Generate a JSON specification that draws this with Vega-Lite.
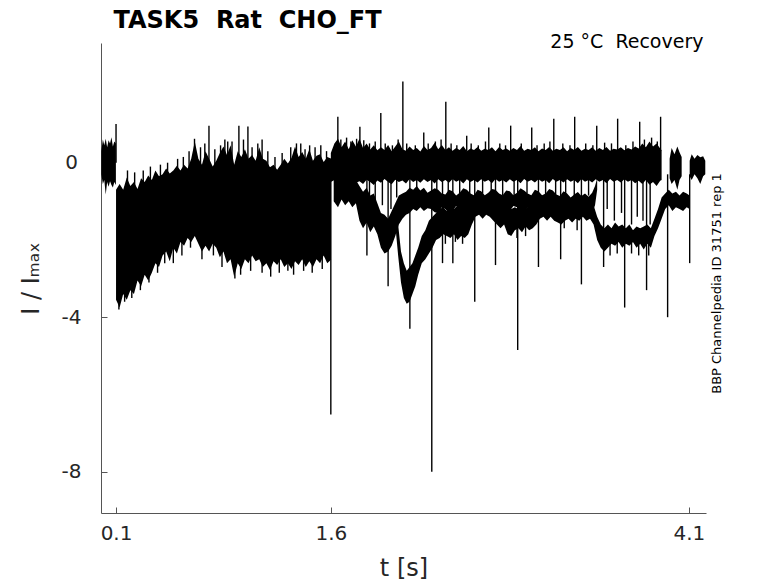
{
  "$schema": "https://vega.github.io/schema/vega-lite/v6.json",
  "width": 605,
  "height": 470,
  "autosize": "none",
  "padding": {"left": 101, "top": 43, "right": 72, "bottom": 70},
  "background": "white",
  "config": {
    "view": {"stroke": null},
    "font": "DejaVu Sans",
    "axis": {"grid": false, "zindex": 1}
  },
  "datasets": {
    "bands": [
      {"s": "a", "t": -0.003, "hi": 0.3, "lo": -0.3},
      {"s": "a", "t": 0.008, "hi": 0.6, "lo": -0.55},
      {"s": "a", "t": 0.018, "hi": 0.45, "lo": -0.45},
      {"s": "a", "t": 0.028, "hi": 0.62, "lo": -0.82},
      {"s": "a", "t": 0.038, "hi": 0.4, "lo": -0.5},
      {"s": "a", "t": 0.048, "hi": 0.58, "lo": -0.62},
      {"s": "a", "t": 0.058, "hi": 0.5, "lo": -0.48},
      {"s": "a", "t": 0.068, "hi": 0.66, "lo": -0.58},
      {"s": "a", "t": 0.078, "hi": 0.42, "lo": -0.64},
      {"s": "a", "t": 0.088, "hi": 0.55, "lo": -0.5},
      {"s": "a", "t": 0.099, "hi": 0.5, "lo": -0.58},

      {"s": "b", "t": 0.1, "hi": -0.7, "lo": -3.55},
      {"s": "b", "t": 0.125, "hi": -0.55, "lo": -3.75},
      {"s": "b", "t": 0.15, "hi": -0.7, "lo": -3.4},
      {"s": "b", "t": 0.175, "hi": -0.38, "lo": -3.55},
      {"s": "b", "t": 0.2, "hi": -0.6, "lo": -3.3},
      {"s": "b", "t": 0.225, "hi": -0.5, "lo": -3.4},
      {"s": "b", "t": 0.25, "hi": -0.68, "lo": -3.05},
      {"s": "b", "t": 0.275, "hi": -0.4, "lo": -3.2},
      {"s": "b", "t": 0.3, "hi": -0.5, "lo": -2.9},
      {"s": "b", "t": 0.325, "hi": -0.33, "lo": -3.05},
      {"s": "b", "t": 0.35, "hi": -0.45, "lo": -2.85},
      {"s": "b", "t": 0.375, "hi": -0.2, "lo": -2.6},
      {"s": "b", "t": 0.4, "hi": -0.35, "lo": -2.7},
      {"s": "b", "t": 0.425, "hi": -0.3, "lo": -2.4},
      {"s": "b", "t": 0.45, "hi": -0.15, "lo": -2.3},
      {"s": "b", "t": 0.475, "hi": -0.28, "lo": -2.55},
      {"s": "b", "t": 0.5, "hi": -0.2, "lo": -2.2},
      {"s": "b", "t": 0.525, "hi": -0.08, "lo": -2.35},
      {"s": "b", "t": 0.55, "hi": -0.2, "lo": -2.05},
      {"s": "b", "t": 0.575, "hi": -0.05, "lo": -2.15},
      {"s": "b", "t": 0.6, "hi": -0.15, "lo": -1.95},
      {"s": "b", "t": 0.625, "hi": 0.1, "lo": -2.05},
      {"s": "b", "t": 0.65, "hi": 0.55, "lo": -1.9},
      {"s": "b", "t": 0.675, "hi": 0.1, "lo": -2.1},
      {"s": "b", "t": 0.7, "hi": -0.05, "lo": -2.3},
      {"s": "b", "t": 0.725, "hi": 0.3, "lo": -2.15},
      {"s": "b", "t": 0.75, "hi": 0.1, "lo": -2.3},
      {"s": "b", "t": 0.775, "hi": -0.1, "lo": -2.1},
      {"s": "b", "t": 0.8, "hi": 0.05, "lo": -2.2},
      {"s": "b", "t": 0.825, "hi": 0.25, "lo": -2.45},
      {"s": "b", "t": 0.85, "hi": 0.42, "lo": -2.3},
      {"s": "b", "t": 0.875, "hi": 0.2, "lo": -2.6},
      {"s": "b", "t": 0.9, "hi": 0.45, "lo": -2.5},
      {"s": "b", "t": 0.925, "hi": -0.05, "lo": -2.95},
      {"s": "b", "t": 0.95, "hi": 0.3, "lo": -2.6},
      {"s": "b", "t": 0.975, "hi": 0.15, "lo": -2.75},
      {"s": "b", "t": 1.0, "hi": 0.35, "lo": -2.5},
      {"s": "b", "t": 1.025, "hi": 0.1, "lo": -2.6},
      {"s": "b", "t": 1.05, "hi": 0.2, "lo": -2.4},
      {"s": "b", "t": 1.075, "hi": 0.05, "lo": -2.55},
      {"s": "b", "t": 1.1, "hi": 0.4, "lo": -2.5},
      {"s": "b", "t": 1.125, "hi": 0.1, "lo": -2.7},
      {"s": "b", "t": 1.15, "hi": 0.05, "lo": -2.6},
      {"s": "b", "t": 1.175, "hi": -0.12, "lo": -2.78},
      {"s": "b", "t": 1.2, "hi": -0.05, "lo": -2.55},
      {"s": "b", "t": 1.225, "hi": -0.18, "lo": -2.65},
      {"s": "b", "t": 1.25, "hi": -0.05, "lo": -2.5},
      {"s": "b", "t": 1.275, "hi": 0.1, "lo": -2.7},
      {"s": "b", "t": 1.3, "hi": -0.02, "lo": -2.6},
      {"s": "b", "t": 1.325, "hi": 0.12, "lo": -2.75},
      {"s": "b", "t": 1.35, "hi": 0.42, "lo": -2.55},
      {"s": "b", "t": 1.375, "hi": 0.15, "lo": -2.65},
      {"s": "b", "t": 1.4, "hi": 0.28, "lo": -2.5},
      {"s": "b", "t": 1.425, "hi": 0.1, "lo": -2.7},
      {"s": "b", "t": 1.45, "hi": 0.35, "lo": -2.55},
      {"s": "b", "t": 1.475, "hi": 0.05, "lo": -2.7},
      {"s": "b", "t": 1.5, "hi": 0.18, "lo": -2.5},
      {"s": "b", "t": 1.525, "hi": 0.22, "lo": -2.6},
      {"s": "b", "t": 1.55, "hi": 0.02, "lo": -2.4},
      {"s": "b", "t": 1.575, "hi": 0.15, "lo": -2.6},
      {"s": "b", "t": 1.605, "hi": 0.1, "lo": -2.5},

      {"s": "c1", "t": 1.6, "hi": 0.25, "lo": -0.5},
      {"s": "c1", "t": 1.625, "hi": 0.5, "lo": -0.45},
      {"s": "c1", "t": 1.65, "hi": 0.62, "lo": -0.55},
      {"s": "c1", "t": 1.675, "hi": 0.4, "lo": -0.45},
      {"s": "c1", "t": 1.7, "hi": 0.55, "lo": -0.5},
      {"s": "c1", "t": 1.725, "hi": 0.35, "lo": -0.6},
      {"s": "c1", "t": 1.75, "hi": 0.58, "lo": -0.45},
      {"s": "c1", "t": 1.775, "hi": 0.42, "lo": -0.52},
      {"s": "c1", "t": 1.8, "hi": 0.62, "lo": -0.48},
      {"s": "c1", "t": 1.825, "hi": 0.38, "lo": -0.55},
      {"s": "c1", "t": 1.85, "hi": 0.5, "lo": -0.44},
      {"s": "c1", "t": 1.875, "hi": 0.34, "lo": -0.5},
      {"s": "c1", "t": 1.9, "hi": 0.45, "lo": -0.58},
      {"s": "c1", "t": 1.925, "hi": 0.32, "lo": -0.46},
      {"s": "c1", "t": 1.95, "hi": 0.4, "lo": -0.52},
      {"s": "c1", "t": 1.975, "hi": 0.33, "lo": -0.42},
      {"s": "c1", "t": 2.0, "hi": 0.46, "lo": -0.5},
      {"s": "c1", "t": 2.025, "hi": 0.3, "lo": -0.56},
      {"s": "c1", "t": 2.05, "hi": 0.42, "lo": -0.44},
      {"s": "c1", "t": 2.075, "hi": 0.55, "lo": -0.5},
      {"s": "c1", "t": 2.1, "hi": 0.35, "lo": -0.46},
      {"s": "c1", "t": 2.125, "hi": 0.31, "lo": -0.54},
      {"s": "c1", "t": 2.15, "hi": 0.42, "lo": -0.42},
      {"s": "c1", "t": 2.175, "hi": 0.33, "lo": -0.5},
      {"s": "c1", "t": 2.2, "hi": 0.38, "lo": -0.45},
      {"s": "c1", "t": 2.225, "hi": 0.29, "lo": -0.52},
      {"s": "c1", "t": 2.25, "hi": 0.43, "lo": -0.43},
      {"s": "c1", "t": 2.275, "hi": 0.33, "lo": -0.5},
      {"s": "c1", "t": 2.3, "hi": 0.38, "lo": -0.45},
      {"s": "c1", "t": 2.325, "hi": 0.52, "lo": -0.54},
      {"s": "c1", "t": 2.35, "hi": 0.35, "lo": -0.43},
      {"s": "c1", "t": 2.375, "hi": 0.46, "lo": -0.5},
      {"s": "c1", "t": 2.4, "hi": 0.33, "lo": -0.45},
      {"s": "c1", "t": 2.425, "hi": 0.4, "lo": -0.52},
      {"s": "c1", "t": 2.45, "hi": 0.31, "lo": -0.42},
      {"s": "c1", "t": 2.475, "hi": 0.38, "lo": -0.49},
      {"s": "c1", "t": 2.5, "hi": 0.33, "lo": -0.45},
      {"s": "c1", "t": 2.525, "hi": 0.43, "lo": -0.54},
      {"s": "c1", "t": 2.55, "hi": 0.3, "lo": -0.43},
      {"s": "c1", "t": 2.575, "hi": 0.37, "lo": -0.5},
      {"s": "c1", "t": 2.6, "hi": 0.33, "lo": -0.45},
      {"s": "c1", "t": 2.625, "hi": 0.41, "lo": -0.51},
      {"s": "c1", "t": 2.65, "hi": 0.31, "lo": -0.43},
      {"s": "c1", "t": 2.675, "hi": 0.36, "lo": -0.49},
      {"s": "c1", "t": 2.7, "hi": 0.33, "lo": -0.45},
      {"s": "c1", "t": 2.725, "hi": 0.4, "lo": -0.53},
      {"s": "c1", "t": 2.75, "hi": 0.3, "lo": -0.42},
      {"s": "c1", "t": 2.775, "hi": 0.41, "lo": -0.49},
      {"s": "c1", "t": 2.8, "hi": 0.33, "lo": -0.45},
      {"s": "c1", "t": 2.825, "hi": 0.37, "lo": -0.51},
      {"s": "c1", "t": 2.85, "hi": 0.31, "lo": -0.43},
      {"s": "c1", "t": 2.875, "hi": 0.38, "lo": -0.49},
      {"s": "c1", "t": 2.9, "hi": 0.33, "lo": -0.45},
      {"s": "c1", "t": 2.925, "hi": 0.43, "lo": -0.53},
      {"s": "c1", "t": 2.95, "hi": 0.31, "lo": -0.42},
      {"s": "c1", "t": 2.975, "hi": 0.36, "lo": -0.49},
      {"s": "c1", "t": 3.0, "hi": 0.33, "lo": -0.45},
      {"s": "c1", "t": 3.025, "hi": 0.4, "lo": -0.51},
      {"s": "c1", "t": 3.05, "hi": 0.3, "lo": -0.43},
      {"s": "c1", "t": 3.075, "hi": 0.37, "lo": -0.49},
      {"s": "c1", "t": 3.1, "hi": 0.33, "lo": -0.45},
      {"s": "c1", "t": 3.125, "hi": 0.41, "lo": -0.53},
      {"s": "c1", "t": 3.15, "hi": 0.31, "lo": -0.42},
      {"s": "c1", "t": 3.175, "hi": 0.36, "lo": -0.49},
      {"s": "c1", "t": 3.2, "hi": 0.33, "lo": -0.45},
      {"s": "c1", "t": 3.225, "hi": 0.4, "lo": -0.51},
      {"s": "c1", "t": 3.25, "hi": 0.3, "lo": -0.43},
      {"s": "c1", "t": 3.275, "hi": 0.38, "lo": -0.49},
      {"s": "c1", "t": 3.3, "hi": 0.33, "lo": -0.45},
      {"s": "c1", "t": 3.325, "hi": 0.41, "lo": -0.53},
      {"s": "c1", "t": 3.35, "hi": 0.31, "lo": -0.42},
      {"s": "c1", "t": 3.375, "hi": 0.36, "lo": -0.49},
      {"s": "c1", "t": 3.4, "hi": 0.33, "lo": -0.45},
      {"s": "c1", "t": 3.425, "hi": 0.4, "lo": -0.51},
      {"s": "c1", "t": 3.45, "hi": 0.31, "lo": -0.43},
      {"s": "c1", "t": 3.475, "hi": 0.38, "lo": -0.49},
      {"s": "c1", "t": 3.5, "hi": 0.33, "lo": -0.45},
      {"s": "c1", "t": 3.525, "hi": 0.41, "lo": -0.53},
      {"s": "c1", "t": 3.55, "hi": 0.31, "lo": -0.42},
      {"s": "c1", "t": 3.575, "hi": 0.36, "lo": -0.49},
      {"s": "c1", "t": 3.6, "hi": 0.34, "lo": -0.45},
      {"s": "c1", "t": 3.625, "hi": 0.4, "lo": -0.51},
      {"s": "c1", "t": 3.65, "hi": 0.32, "lo": -0.43},
      {"s": "c1", "t": 3.675, "hi": 0.38, "lo": -0.49},
      {"s": "c1", "t": 3.7, "hi": 0.34, "lo": -0.45},
      {"s": "c1", "t": 3.725, "hi": 0.42, "lo": -0.53},
      {"s": "c1", "t": 3.75, "hi": 0.37, "lo": -0.47},
      {"s": "c1", "t": 3.775, "hi": 0.5, "lo": -0.55},
      {"s": "c1", "t": 3.8, "hi": 0.4, "lo": -0.45},
      {"s": "c1", "t": 3.825, "hi": 0.55, "lo": -0.57},
      {"s": "c1", "t": 3.85, "hi": 0.42, "lo": -0.5},
      {"s": "c1", "t": 3.875, "hi": 0.5, "lo": -0.6},
      {"s": "c1", "t": 3.9, "hi": 0.37, "lo": -0.47},
      {"s": "c1", "t": 3.91, "hi": 0.32, "lo": -0.45},

      {"s": "c2", "t": 3.966, "hi": 0.1, "lo": -0.4},
      {"s": "c2", "t": 3.98, "hi": 0.38, "lo": -0.55},
      {"s": "c2", "t": 4.0, "hi": 0.22, "lo": -0.45},
      {"s": "c2", "t": 4.02, "hi": 0.42, "lo": -0.7},
      {"s": "c2", "t": 4.035, "hi": 0.27, "lo": -0.45},
      {"s": "c2", "t": 4.05, "hi": 0.15, "lo": -0.35},

      {"s": "c3", "t": 4.106, "hi": 0.05, "lo": -0.35},
      {"s": "c3", "t": 4.12, "hi": 0.22, "lo": -0.45},
      {"s": "c3", "t": 4.14, "hi": 0.1, "lo": -0.3},
      {"s": "c3", "t": 4.16, "hi": 0.2, "lo": -0.4},
      {"s": "c3", "t": 4.18, "hi": 0.14, "lo": -0.55},
      {"s": "c3", "t": 4.2, "hi": 0.17, "lo": -0.35},
      {"s": "c3", "t": 4.215, "hi": 0.05, "lo": -0.3},

      {"s": "d", "t": 1.62, "hi": -0.3, "lo": -1.0},
      {"s": "d", "t": 1.65, "hi": -0.3, "lo": -1.15},
      {"s": "d", "t": 1.675, "hi": -0.35, "lo": -0.95},
      {"s": "d", "t": 1.7, "hi": -0.3, "lo": -1.1},
      {"s": "d", "t": 1.725, "hi": -0.4, "lo": -1.0},
      {"s": "d", "t": 1.75, "hi": -0.3, "lo": -1.15},
      {"s": "d", "t": 1.775, "hi": -0.45, "lo": -1.05},
      {"s": "d", "t": 1.8, "hi": -0.6, "lo": -1.5},
      {"s": "d", "t": 1.825, "hi": -0.75, "lo": -1.7},
      {"s": "d", "t": 1.85, "hi": -0.65, "lo": -1.55},
      {"s": "d", "t": 1.875, "hi": -0.85, "lo": -1.8},
      {"s": "d", "t": 1.9, "hi": -0.8, "lo": -1.65},
      {"s": "d", "t": 1.925, "hi": -1.05, "lo": -1.85},
      {"s": "d", "t": 1.95, "hi": -1.3, "lo": -2.2},
      {"s": "d", "t": 1.975, "hi": -1.35, "lo": -2.35},
      {"s": "d", "t": 2.0, "hi": -1.45, "lo": -2.3},
      {"s": "d", "t": 2.025, "hi": -1.25, "lo": -2.15},
      {"s": "d", "t": 2.05, "hi": -1.05, "lo": -1.9},
      {"s": "d", "t": 2.075, "hi": -0.85, "lo": -1.6},
      {"s": "d", "t": 2.1, "hi": -0.8, "lo": -1.45},
      {"s": "d", "t": 2.125, "hi": -0.75, "lo": -1.35},
      {"s": "d", "t": 2.15, "hi": -0.65, "lo": -1.3},
      {"s": "d", "t": 2.175, "hi": -0.7, "lo": -1.2},
      {"s": "d", "t": 2.2, "hi": -0.6, "lo": -1.25},
      {"s": "d", "t": 2.225, "hi": -0.72, "lo": -1.15},
      {"s": "d", "t": 2.25, "hi": -0.65, "lo": -1.25},
      {"s": "d", "t": 2.275, "hi": -0.78, "lo": -1.18},
      {"s": "d", "t": 2.3, "hi": -0.72, "lo": -1.2},
      {"s": "d", "t": 2.325, "hi": -0.66, "lo": -1.28},
      {"s": "d", "t": 2.35, "hi": -0.7, "lo": -1.3},
      {"s": "d", "t": 2.375, "hi": -0.8, "lo": -1.15},
      {"s": "d", "t": 2.4, "hi": -0.82, "lo": -1.2},
      {"s": "d", "t": 2.425, "hi": -0.7, "lo": -1.32},
      {"s": "d", "t": 2.45, "hi": -0.74, "lo": -1.25},
      {"s": "d", "t": 2.475, "hi": -0.85, "lo": -1.12},
      {"s": "d", "t": 2.5, "hi": -0.78, "lo": -1.15},
      {"s": "d", "t": 2.525, "hi": -0.66, "lo": -1.3},
      {"s": "d", "t": 2.55, "hi": -0.7, "lo": -1.3},
      {"s": "d", "t": 2.575, "hi": -0.8, "lo": -1.18},
      {"s": "d", "t": 2.6, "hi": -0.84, "lo": -1.2},
      {"s": "d", "t": 2.625, "hi": -0.7, "lo": -1.3},
      {"s": "d", "t": 2.65, "hi": -0.74, "lo": -1.25},
      {"s": "d", "t": 2.675, "hi": -0.84, "lo": -1.12},
      {"s": "d", "t": 2.7, "hi": -0.78, "lo": -1.15},
      {"s": "d", "t": 2.725, "hi": -0.68, "lo": -1.28},
      {"s": "d", "t": 2.75, "hi": -0.7, "lo": -1.3},
      {"s": "d", "t": 2.775, "hi": -0.8, "lo": -1.16},
      {"s": "d", "t": 2.8, "hi": -0.84, "lo": -1.2},
      {"s": "d", "t": 2.825, "hi": -0.72, "lo": -1.3},
      {"s": "d", "t": 2.85, "hi": -0.74, "lo": -1.25},
      {"s": "d", "t": 2.875, "hi": -0.84, "lo": -1.12},
      {"s": "d", "t": 2.9, "hi": -0.78, "lo": -1.15},
      {"s": "d", "t": 2.925, "hi": -0.66, "lo": -1.3},
      {"s": "d", "t": 2.95, "hi": -0.72, "lo": -1.28},
      {"s": "d", "t": 2.975, "hi": -0.8, "lo": -1.16},
      {"s": "d", "t": 3.0, "hi": -0.84, "lo": -1.2},
      {"s": "d", "t": 3.025, "hi": -0.7, "lo": -1.3},
      {"s": "d", "t": 3.05, "hi": -0.74, "lo": -1.25},
      {"s": "d", "t": 3.075, "hi": -0.84, "lo": -1.12},
      {"s": "d", "t": 3.1, "hi": -0.8, "lo": -1.15},
      {"s": "d", "t": 3.125, "hi": -0.68, "lo": -1.3},
      {"s": "d", "t": 3.15, "hi": -0.72, "lo": -1.3},
      {"s": "d", "t": 3.175, "hi": -0.82, "lo": -1.16},
      {"s": "d", "t": 3.2, "hi": -0.86, "lo": -1.22},
      {"s": "d", "t": 3.225, "hi": -0.74, "lo": -1.32},
      {"s": "d", "t": 3.25, "hi": -0.8, "lo": -1.25},
      {"s": "d", "t": 3.275, "hi": -0.9, "lo": -1.2},
      {"s": "d", "t": 3.3, "hi": -0.82, "lo": -1.3},
      {"s": "d", "t": 3.325, "hi": -0.76, "lo": -1.25},
      {"s": "d", "t": 3.35, "hi": -0.86, "lo": -1.18},
      {"s": "d", "t": 3.375, "hi": -0.8, "lo": -1.28},
      {"s": "d", "t": 3.4, "hi": -0.88, "lo": -1.22},
      {"s": "d", "t": 3.425, "hi": -0.78, "lo": -1.3},
      {"s": "d", "t": 3.445, "hi": -0.6, "lo": -1.1},
      {"s": "d", "t": 3.46, "hi": -0.4, "lo": -0.7},

      {"s": "e", "t": 2.05, "hi": -1.2, "lo": -1.6},
      {"s": "e", "t": 2.07, "hi": -1.6, "lo": -2.4},
      {"s": "e", "t": 2.09, "hi": -2.3, "lo": -3.1},
      {"s": "e", "t": 2.11, "hi": -2.6, "lo": -3.5},
      {"s": "e", "t": 2.13, "hi": -2.8, "lo": -3.65},
      {"s": "e", "t": 2.15, "hi": -2.7, "lo": -3.6},
      {"s": "e", "t": 2.17, "hi": -2.6, "lo": -3.4},
      {"s": "e", "t": 2.19, "hi": -2.4, "lo": -3.2},
      {"s": "e", "t": 2.21, "hi": -2.2, "lo": -2.9},
      {"s": "e", "t": 2.235, "hi": -1.9, "lo": -2.6},
      {"s": "e", "t": 2.26, "hi": -1.75, "lo": -2.5},
      {"s": "e", "t": 2.285, "hi": -1.5, "lo": -2.35},
      {"s": "e", "t": 2.31, "hi": -1.4, "lo": -2.2},
      {"s": "e", "t": 2.335, "hi": -1.3, "lo": -2.0},
      {"s": "e", "t": 2.36, "hi": -1.2, "lo": -1.95},
      {"s": "e", "t": 2.385, "hi": -1.15, "lo": -1.85},
      {"s": "e", "t": 2.41, "hi": -1.25, "lo": -1.9},
      {"s": "e", "t": 2.435, "hi": -1.1, "lo": -1.95},
      {"s": "e", "t": 2.46, "hi": -1.2, "lo": -1.85},
      {"s": "e", "t": 2.485, "hi": -1.1, "lo": -2.0},
      {"s": "e", "t": 2.51, "hi": -1.15, "lo": -1.9},
      {"s": "e", "t": 2.535, "hi": -1.05, "lo": -1.95},
      {"s": "e", "t": 2.56, "hi": -1.1, "lo": -1.85},
      {"s": "e", "t": 2.585, "hi": -1.0, "lo": -1.6},
      {"s": "e", "t": 2.61, "hi": -1.05, "lo": -1.4},
      {"s": "e", "t": 2.635, "hi": -0.95, "lo": -1.35},
      {"s": "e", "t": 2.66, "hi": -1.0, "lo": -1.45},
      {"s": "e", "t": 2.685, "hi": -0.95, "lo": -1.35},
      {"s": "e", "t": 2.71, "hi": -1.05, "lo": -1.4},
      {"s": "e", "t": 2.735, "hi": -1.0, "lo": -1.5},
      {"s": "e", "t": 2.76, "hi": -1.1, "lo": -1.6},
      {"s": "e", "t": 2.785, "hi": -1.05, "lo": -1.7},
      {"s": "e", "t": 2.81, "hi": -1.15, "lo": -1.6},
      {"s": "e", "t": 2.835, "hi": -1.1, "lo": -1.85},
      {"s": "e", "t": 2.86, "hi": -1.2, "lo": -1.9},
      {"s": "e", "t": 2.885, "hi": -1.15, "lo": -1.75},
      {"s": "e", "t": 2.91, "hi": -1.2, "lo": -1.7},
      {"s": "e", "t": 2.935, "hi": -1.15, "lo": -1.8},
      {"s": "e", "t": 2.96, "hi": -1.2, "lo": -1.65},
      {"s": "e", "t": 2.985, "hi": -1.1, "lo": -1.75},
      {"s": "e", "t": 3.01, "hi": -1.2, "lo": -1.7},
      {"s": "e", "t": 3.035, "hi": -1.1, "lo": -1.6},
      {"s": "e", "t": 3.06, "hi": -1.05, "lo": -1.45},
      {"s": "e", "t": 3.085, "hi": -1.0, "lo": -1.4},
      {"s": "e", "t": 3.11, "hi": -1.1, "lo": -1.5},
      {"s": "e", "t": 3.135, "hi": -1.0, "lo": -1.4},
      {"s": "e", "t": 3.16, "hi": -1.1, "lo": -1.5},
      {"s": "e", "t": 3.185, "hi": -1.05, "lo": -1.55},
      {"s": "e", "t": 3.21, "hi": -1.1, "lo": -1.6},
      {"s": "e", "t": 3.235, "hi": -1.0, "lo": -1.5},
      {"s": "e", "t": 3.26, "hi": -1.1, "lo": -1.45},
      {"s": "e", "t": 3.285, "hi": -1.05, "lo": -1.55},
      {"s": "e", "t": 3.31, "hi": -1.0, "lo": -1.45},
      {"s": "e", "t": 3.335, "hi": -1.1, "lo": -1.5},
      {"s": "e", "t": 3.36, "hi": -1.0, "lo": -1.4},
      {"s": "e", "t": 3.385, "hi": -1.05, "lo": -1.5},
      {"s": "e", "t": 3.41, "hi": -1.0, "lo": -1.45},
      {"s": "e", "t": 3.435, "hi": -1.1, "lo": -1.6},
      {"s": "e", "t": 3.46, "hi": -1.4, "lo": -2.0},
      {"s": "e", "t": 3.485, "hi": -1.6, "lo": -2.2},
      {"s": "e", "t": 3.51, "hi": -1.7, "lo": -2.3},
      {"s": "e", "t": 3.535, "hi": -1.6, "lo": -2.2},
      {"s": "e", "t": 3.56, "hi": -1.7, "lo": -2.1},
      {"s": "e", "t": 3.585, "hi": -1.55, "lo": -2.15},
      {"s": "e", "t": 3.61, "hi": -1.65, "lo": -2.05},
      {"s": "e", "t": 3.635, "hi": -1.6, "lo": -2.2},
      {"s": "e", "t": 3.66, "hi": -1.7, "lo": -2.1},
      {"s": "e", "t": 3.685, "hi": -1.6, "lo": -2.15},
      {"s": "e", "t": 3.71, "hi": -1.75, "lo": -2.05},
      {"s": "e", "t": 3.735, "hi": -1.65, "lo": -2.2},
      {"s": "e", "t": 3.76, "hi": -1.7, "lo": -2.1},
      {"s": "e", "t": 3.785, "hi": -1.65, "lo": -2.25},
      {"s": "e", "t": 3.81, "hi": -1.6, "lo": -2.1},
      {"s": "e", "t": 3.835, "hi": -1.7, "lo": -2.2},
      {"s": "e", "t": 3.86, "hi": -1.45, "lo": -1.9},
      {"s": "e", "t": 3.885, "hi": -1.2, "lo": -1.7},
      {"s": "e", "t": 3.91, "hi": -0.9, "lo": -1.45},
      {"s": "e", "t": 3.935, "hi": -0.8, "lo": -1.2},
      {"s": "e", "t": 3.96, "hi": -0.7, "lo": -1.1},
      {"s": "e", "t": 3.985, "hi": -0.8, "lo": -1.25},
      {"s": "e", "t": 4.01, "hi": -0.75, "lo": -1.15},
      {"s": "e", "t": 4.035, "hi": -0.85, "lo": -1.2},
      {"s": "e", "t": 4.06, "hi": -0.75, "lo": -1.25},
      {"s": "e", "t": 4.085, "hi": -0.8, "lo": -1.15},
      {"s": "e", "t": 4.105, "hi": -0.85, "lo": -1.2}
    ],
    "rises": [
      {"t": 0.1, "a": 0, "b": 1.0},
      {"t": 0.749, "a": 0, "b": 0.96},
      {"t": 0.958, "a": 0, "b": 0.96},
      {"t": 1.021, "a": 0, "b": 0.94},
      {"t": 0.648, "a": 0, "b": 0.62},
      {"t": 0.88, "a": 0, "b": 0.55},
      {"t": 1.12, "a": 0, "b": 0.6},
      {"t": 1.36, "a": 0, "b": 0.5},
      {"t": 1.452, "a": 0, "b": 0.45},
      {"t": 0.18, "a": -1.0, "b": -0.2},
      {"t": 0.23, "a": -1.0, "b": -0.25},
      {"t": 0.29, "a": -1.0, "b": -0.2},
      {"t": 0.34, "a": -1.0, "b": -0.1},
      {"t": 0.41, "a": -1.0, "b": -0.05},
      {"t": 0.46, "a": -1.0, "b": 0.0},
      {"t": 0.53, "a": -1.0, "b": 0.1},
      {"t": 0.57, "a": -1.0, "b": 0.15},
      {"t": 0.61, "a": -1.0, "b": 0.3},
      {"t": 0.69, "a": -1.0, "b": 0.4},
      {"t": 0.72, "a": -1.0, "b": 0.5},
      {"t": 0.79, "a": -1.0, "b": 0.35},
      {"t": 0.83, "a": -1.0, "b": 0.45},
      {"t": 0.86, "a": -1.0, "b": 0.6},
      {"t": 0.91, "a": -1.0, "b": 0.55},
      {"t": 0.99, "a": -1.0, "b": 0.6},
      {"t": 1.05, "a": -1.0, "b": 0.4},
      {"t": 1.09, "a": -1.0, "b": 0.5},
      {"t": 1.16, "a": -1.0, "b": 0.3},
      {"t": 1.21, "a": -1.0, "b": 0.15},
      {"t": 1.26, "a": -1.0, "b": 0.25},
      {"t": 1.32, "a": -1.0, "b": 0.4},
      {"t": 1.39, "a": -1.0, "b": 0.5},
      {"t": 1.42, "a": -1.0, "b": 0.35},
      {"t": 1.49, "a": -1.0, "b": 0.4},
      {"t": 1.53, "a": -1.0, "b": 0.45},
      {"t": 1.57, "a": -1.0, "b": 0.3},
      {"t": 1.67, "a": 0, "b": 0.6},
      {"t": 1.71, "a": 0, "b": 0.65},
      {"t": 1.74, "a": 0, "b": 0.55},
      {"t": 1.78, "a": 0, "b": 0.62},
      {"t": 1.83, "a": 0, "b": 0.58},
      {"t": 1.87, "a": 0, "b": 0.5},
      {"t": 1.91, "a": 0, "b": 0.55},
      {"t": 1.98, "a": 0, "b": 0.5},
      {"t": 2.03, "a": 0, "b": 0.45},
      {"t": 2.07, "a": 0, "b": 0.6},
      {"t": 2.13, "a": 0, "b": 0.5},
      {"t": 2.19, "a": 0, "b": 0.45},
      {"t": 2.28, "a": 0, "b": 0.5},
      {"t": 2.33, "a": 0, "b": 0.55},
      {"t": 2.37, "a": 0, "b": 0.6},
      {"t": 2.44, "a": 0, "b": 0.5},
      {"t": 2.48, "a": 0, "b": 0.45},
      {"t": 2.58, "a": 0, "b": 0.5},
      {"t": 2.63, "a": 0, "b": 0.45},
      {"t": 2.68, "a": 0, "b": 0.55},
      {"t": 2.78, "a": 0, "b": 0.5},
      {"t": 2.82, "a": 0, "b": 0.45},
      {"t": 2.93, "a": 0, "b": 0.5},
      {"t": 3.04, "a": 0, "b": 0.45},
      {"t": 3.09, "a": 0, "b": 0.5},
      {"t": 3.13, "a": 0, "b": 0.55},
      {"t": 3.22, "a": 0, "b": 0.5},
      {"t": 3.27, "a": 0, "b": 0.45},
      {"t": 3.38, "a": 0, "b": 0.5},
      {"t": 3.43, "a": 0, "b": 0.45},
      {"t": 3.56, "a": 0, "b": 0.5},
      {"t": 3.66, "a": 0, "b": 0.45},
      {"t": 3.71, "a": 0, "b": 0.55},
      {"t": 3.79, "a": 0, "b": 0.6},
      {"t": 3.84, "a": 0, "b": 0.65},
      {"t": 3.88, "a": 0, "b": 0.55},
      {"t": 1.649, "a": 0.3, "b": 1.19},
      {"t": 1.803, "a": 0.3, "b": 0.93},
      {"t": 1.949, "a": 0.3, "b": 1.29},
      {"t": 2.103, "a": 0.3, "b": 2.1},
      {"t": 2.249, "a": 0.3, "b": 0.78},
      {"t": 2.403, "a": 0.3, "b": 1.58},
      {"t": 2.549, "a": 0.3, "b": 0.7},
      {"t": 2.703, "a": 0.3, "b": 0.91},
      {"t": 2.856, "a": 0.3, "b": 0.96},
      {"t": 3.003, "a": 0.3, "b": 0.91},
      {"t": 3.157, "a": 0.3, "b": 1.14},
      {"t": 3.303, "a": 0.3, "b": 1.19},
      {"t": 3.457, "a": 0.3, "b": 0.96},
      {"t": 3.512, "a": 0.3, "b": 0.52},
      {"t": 3.603, "a": 0.3, "b": 1.14},
      {"t": 3.757, "a": 0.3, "b": 1.06},
      {"t": 3.903, "a": 0.3, "b": 1.19}
    ],
    "drops": [
      {"t": 0.12, "a": -3.0, "b": -3.8},
      {"t": 0.16, "a": -2.0, "b": -3.6},
      {"t": 0.21, "a": -2.0, "b": -3.5},
      {"t": 0.27, "a": -2.0, "b": -3.3},
      {"t": 0.33, "a": -2.0, "b": -3.1},
      {"t": 0.39, "a": -2.0, "b": -2.85},
      {"t": 0.44, "a": -1.5, "b": -2.6},
      {"t": 0.5, "a": -1.5, "b": -2.6},
      {"t": 0.56, "a": -1.5, "b": -2.4},
      {"t": 0.62, "a": -1.5, "b": -2.2},
      {"t": 0.7, "a": -1.5, "b": -2.5},
      {"t": 0.78, "a": -1.5, "b": -2.4},
      {"t": 0.84, "a": -1.5, "b": -2.7},
      {"t": 0.93, "a": -1.5, "b": -3.0},
      {"t": 0.97, "a": -1.5, "b": -2.9},
      {"t": 1.04, "a": -1.5, "b": -2.8},
      {"t": 1.12, "a": -1.5, "b": -2.85},
      {"t": 1.18, "a": -1.5, "b": -2.95},
      {"t": 1.24, "a": -1.5, "b": -2.85},
      {"t": 1.3, "a": -1.5, "b": -2.8},
      {"t": 1.34, "a": -1.5, "b": -2.9},
      {"t": 1.41, "a": -1.5, "b": -2.8},
      {"t": 1.47, "a": -1.5, "b": -2.85},
      {"t": 1.54, "a": -1.5, "b": -2.75},
      {"t": 1.87, "a": -0.3, "b": -1.0},
      {"t": 1.91, "a": -0.3, "b": -1.2},
      {"t": 1.96, "a": -0.3, "b": -1.1},
      {"t": 2.02, "a": -0.3, "b": -1.2},
      {"t": 2.06, "a": -0.3, "b": -0.9},
      {"t": 2.2, "a": -0.3, "b": -0.8},
      {"t": 2.34, "a": -0.3, "b": -0.85},
      {"t": 2.42, "a": -0.3, "b": -0.9},
      {"t": 2.5, "a": -0.3, "b": -0.85},
      {"t": 2.57, "a": -0.3, "b": -0.9},
      {"t": 2.66, "a": -0.3, "b": -0.8},
      {"t": 2.72, "a": -0.3, "b": -0.9},
      {"t": 2.8, "a": -0.3, "b": -0.85},
      {"t": 2.88, "a": -0.3, "b": -0.95},
      {"t": 2.97, "a": -0.3, "b": -0.8},
      {"t": 3.1, "a": -0.3, "b": -0.9},
      {"t": 3.17, "a": -0.3, "b": -0.85},
      {"t": 3.24, "a": -0.3, "b": -0.9},
      {"t": 3.3, "a": -0.3, "b": -0.95},
      {"t": 3.4, "a": -0.3, "b": -0.85},
      {"t": 3.53, "a": -0.3, "b": -1.2},
      {"t": 3.58, "a": -0.3, "b": -1.5},
      {"t": 3.63, "a": -0.3, "b": -1.3},
      {"t": 3.7, "a": -0.3, "b": -1.6},
      {"t": 3.74, "a": -0.3, "b": -1.4},
      {"t": 3.78, "a": -0.3, "b": -1.5},
      {"t": 3.83, "a": -0.3, "b": -1.6},
      {"t": 2.4, "a": -1.5, "b": -2.1},
      {"t": 2.47, "a": -1.5, "b": -2.05},
      {"t": 2.52, "a": -1.5, "b": -2.1},
      {"t": 2.9, "a": -1.5, "b": -1.95},
      {"t": 2.96, "a": -1.5, "b": -1.9},
      {"t": 3.23, "a": -1.3, "b": -1.7},
      {"t": 3.32, "a": -1.3, "b": -1.75},
      {"t": 3.55, "a": -1.8, "b": -2.4},
      {"t": 3.6, "a": -1.8, "b": -2.35},
      {"t": 3.7, "a": -1.8, "b": -2.35},
      {"t": 3.75, "a": -1.8, "b": -2.4},
      {"t": 3.82, "a": -1.8, "b": -2.4},
      {"t": 1.6, "a": -2.5, "b": -6.52},
      {"t": 1.852, "a": -0.3, "b": -2.4},
      {"t": 2.0, "a": -0.3, "b": -3.2},
      {"t": 2.152, "a": -0.3, "b": -4.3},
      {"t": 2.305, "a": -0.3, "b": -8.0},
      {"t": 2.38, "a": -0.3, "b": -2.6},
      {"t": 2.452, "a": -0.3, "b": -2.6},
      {"t": 2.605, "a": -0.3, "b": -3.6},
      {"t": 2.75, "a": -0.3, "b": -2.65},
      {"t": 2.905, "a": -0.3, "b": -4.85},
      {"t": 3.05, "a": -0.3, "b": -2.7},
      {"t": 3.205, "a": -0.3, "b": -2.5},
      {"t": 3.35, "a": -0.3, "b": -3.15},
      {"t": 3.505, "a": -0.3, "b": -2.7},
      {"t": 3.652, "a": -0.3, "b": -3.75},
      {"t": 3.805, "a": -0.3, "b": -3.3},
      {"t": 3.952, "a": -0.3, "b": -4.0},
      {"t": 4.106, "a": -0.3, "b": -2.6}
    ]
  },
  "resolve": {"axis": {"x": "independent", "y": "independent"}},
  "layer": [
    {
      "data": {"name": "bands"},
      "mark": {"type": "area", "color": "black", "opacity": 1, "interpolate": "linear"},
      "encoding": {
        "x": {
          "field": "t",
          "type": "quantitative",
          "scale": {"domain": [-0.005, 4.22], "nice": false, "zero": false},
          "axis": {
            "values": [0.1, 1.6, 4.1],
            "format": ".1f",
            "title": "t [s]",
            "titleFontSize": 24,
            "titleFontWeight": "normal",
            "titleColor": "#262626",
            "titleBaseline": "alphabetic",
            "titleY": 62,
            "labelFontSize": 20,
            "labelColor": "#262626",
            "labelPadding": 16,
            "labelFlush": false,
            "tickSize": -6,
            "tickColor": "#555555",
            "domainColor": "#555555"
          }
        },
        "y": {
          "field": "hi",
          "type": "quantitative",
          "scale": {"domain": [-9.07, 3.1], "nice": false, "zero": false},
          "axis": {
            "values": [0, -4, -8],
            "labelExpr": "'' + datum.value",
            "title": "I / Iₘₐₓ",
            "titleFontSize": 24,
            "titleFontWeight": "normal",
            "titleColor": "#262626",
            "titleAngle": 270,
            "titleBaseline": "alphabetic",
            "titleAlign": "center",
            "titleX": -63,
            "titleY": 235,
            "labelFontSize": 20,
            "labelColor": "#262626",
            "labelAlign": "center",
            "labelPadding": 36,
            "tickSize": -6,
            "tickColor": "#555555",
            "domainColor": "#555555"
          }
        },
        "y2": {"field": "lo"},
        "detail": {"field": "s"}
      }
    },
    {
      "data": {"name": "rises"},
      "mark": {"type": "rule", "color": "black", "strokeWidth": 1.4},
      "encoding": {
        "x": {
          "field": "t",
          "type": "quantitative",
          "axis": {
            "orient": "top",
            "title": "TASK5\u00a0 Rat\u00a0 CHO_FT",
            "labels": false,
            "ticks": false,
            "domain": false,
            "minExtent": 0,
            "maxExtent": 0,
            "titleFontSize": 24,
            "titleFontWeight": "bold",
            "titleColor": "black",
            "titleAlign": "left",
            "titleBaseline": "alphabetic",
            "titleX": 12,
            "titleY": -16
          }
        },
        "y": {
          "field": "a",
          "type": "quantitative",
          "axis": {
            "orient": "right",
            "title": "BBP Channelpedia ID 31751 rep 1",
            "labels": false,
            "ticks": false,
            "domain": false,
            "minExtent": 0,
            "maxExtent": 0,
            "titleFontSize": 13,
            "titleFontWeight": "normal",
            "titleColor": "black",
            "titleAngle": 270,
            "titleAlign": "center",
            "titleBaseline": "alphabetic",
            "titleX": 14,
            "titleY": 240
          }
        },
        "y2": {"field": "b"}
      }
    },
    {
      "data": {"name": "drops"},
      "mark": {"type": "rule", "color": "black", "strokeWidth": 1.4},
      "encoding": {
        "x": {
          "field": "t",
          "type": "quantitative",
          "axis": {
            "orient": "top",
            "title": "25 °C\u00a0 Recovery",
            "labels": false,
            "ticks": false,
            "domain": false,
            "minExtent": 0,
            "maxExtent": 0,
            "titleFontSize": 19,
            "titleFontWeight": "normal",
            "titleColor": "black",
            "titleAlign": "right",
            "titleBaseline": "alphabetic",
            "titleX": 602,
            "titleY": 4
          }
        },
        "y": {"field": "a", "type": "quantitative", "axis": null},
        "y2": {"field": "b"}
      }
    }
  ]
}
